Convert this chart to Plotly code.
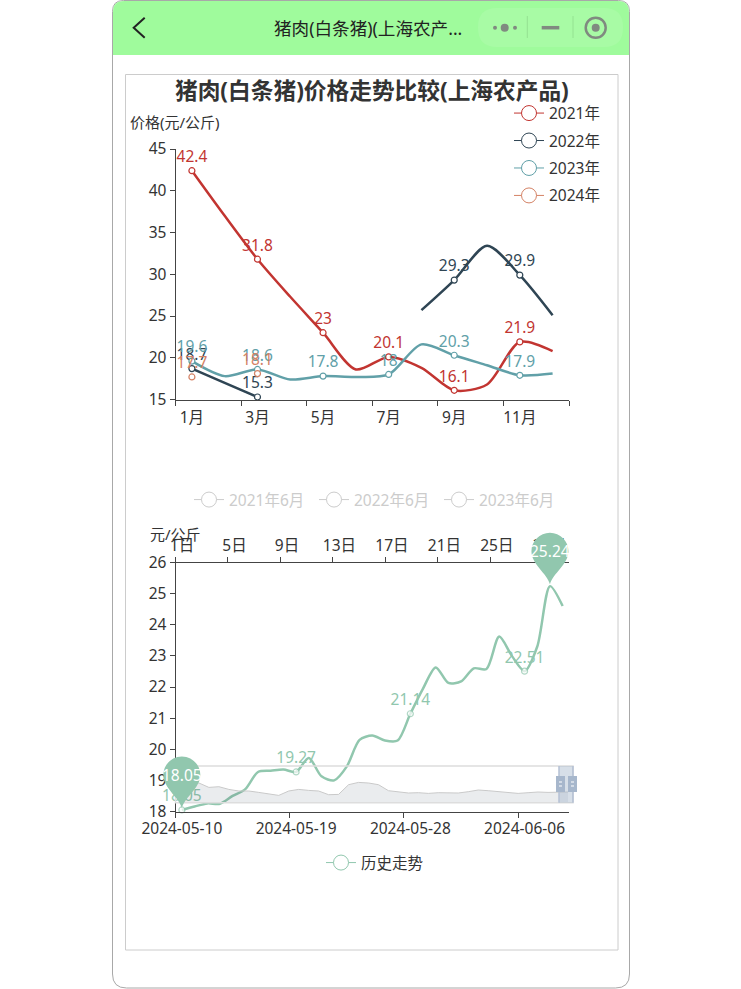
import numpy as np
import plotly.graph_objects as go

W, H = 741, 989
FONT = "Noto Sans, Noto Sans CJK SC"
TXT = "#333333"
FS = 15.5

months = ["1月", "2月", "3月", "4月", "5月", "6月", "7月", "8月", "9月", "10月", "11月", "12月"]
y2021 = [42.4, 37.0, 31.8, 27.3, 23, 18.6, 20.1, 18.8, 16.1, 16.8, 21.9, 20.8]
y2022 = [18.7, 17.0, 15.3, None, None, None, None, 25.7, 29.3, 33.4, 29.9, 25.1]
y2023 = [19.6, 17.8, 18.6, 17.4, 17.8, 17.7, 18, 21.6, 20.3, 19.1, 17.9, 18.1]
y2024 = [17.7, None, 18.1]
series_names = ["2021年", "2022年", "2023年", "2024年"]
series_colors = ["#c23531", "#2f4554", "#61a0a8", "#d48265"]
hidden_names = ["2021年6月", "2022年6月", "2023年6月"]

dates = ["2024-05-10", "2024-05-11", "2024-05-12", "2024-05-13", "2024-05-14", "2024-05-15", "2024-05-16",
         "2024-05-17", "2024-05-18", "2024-05-19", "2024-05-20", "2024-05-21", "2024-05-22", "2024-05-23",
         "2024-05-24", "2024-05-25", "2024-05-26", "2024-05-27", "2024-05-28", "2024-05-29", "2024-05-30",
         "2024-05-31", "2024-06-01", "2024-06-02", "2024-06-03", "2024-06-04", "2024-06-05", "2024-06-06",
         "2024-06-07", "2024-06-08", "2024-06-09"]
days = [f"{d}日" for d in range(1, 31)]
history = [18.05, 18.16, 18.26, 18.25, 18.5, 18.72, 19.27, 19.31, 19.35, 19.27, 19.72, 19.13, 19.0, 19.45,
           20.3, 20.44, 20.28, 20.28, 21.14, 21.95, 22.63, 22.13, 22.18, 22.6, 22.58, 23.62, 23.0, 22.51,
           23.3, 25.24, 24.6]
history_labelled = [0, 9, 18, 27]
overview = [18.7, 20, 19.7, 15.3, 16, 13.3, 11.7, 11.7, 10.3, 8.7, 7.3, 11.7, 13.3, 12.3, 11.7, 8, 8.3, 18,
            20.3, 19.7, 18, 12, 11, 9.7, 10, 9.3, 10, 10, 9.7, 11, 12.7, 12, 11, 10.3, 9.3, 10, 10.7, 10.3,
            10.3, 10.7]


def px(x):
    return x / W


def py(y):
    return 1 - y / H


def xdom(a, b):
    return [a / W, b / W]


def ydom(top, bot):
    return [1 - bot / H, 1 - top / H]


L, R = 175.5, 569.0
T1, B1 = 149.0, 399.5
T2, B2 = 562.5, 811.5
band = (R - L) / len(dates)
unit = (B2 - T2) / 8

fig = go.Figure()

# ---- upper chart
for name, vals, col in zip(series_names, [y2021, y2022, y2023, y2024], series_colors):
    idx = range(len(vals))
    fig.add_trace(go.Scatter(
        x=months[:len(vals)], y=vals, mode="lines+markers+text", showlegend=False,
        connectgaps=False, cliponaxis=False,
        line=dict(color=col, width=2.5, shape="spline", smoothing=0.8),
        marker=dict(size=[6 if i % 2 == 0 and vals[i] is not None else 0 for i in idx],
                    color="white", line=dict(color=col, width=1.2), opacity=1),
        text=[str(vals[i]) if i % 2 == 0 and vals[i] is not None else "" for i in idx],
        textposition="top center", textfont=dict(color=col, size=FS, family=FONT),
        xaxis="x", yaxis="y"))

# ---- legends (keys only)
for name, col in zip(series_names, series_colors):
    fig.add_trace(go.Scatter(
        x=[None], y=[None], mode="lines+markers", name=name, legend="legend", legendgroup=name,
        line=dict(color=col, width=1), marker=dict(size=15, color="white", line=dict(color=col, width=1)),
        xaxis="x", yaxis="y"))
for name in hidden_names:
    fig.add_trace(go.Scatter(
        x=[None], y=[None], mode="lines+markers", name=name, legend="legend2",
        line=dict(color="#cccccc", width=1),
        marker=dict(size=15, color="white", line=dict(color="#cccccc", width=1)),
        xaxis="x", yaxis="y"))

# ---- lower chart
GREEN = "#91c7ae"
fig.add_trace(go.Scatter(
    x=dates, y=history, mode="lines+markers+text", showlegend=False, cliponaxis=False,
    line=dict(color=GREEN, width=2.5, shape="spline", smoothing=0.8),
    marker=dict(size=[6 if i in history_labelled else 0 for i in range(len(history))],
                color="white", line=dict(color=GREEN, width=1.2)),
    text=[str(history[i]) if i in history_labelled else "" for i in range(len(history))],
    textposition="top center", textfont=dict(color=GREEN, size=FS, family=FONT),
    xaxis="x2", yaxis="y2"))
fig.add_trace(go.Scatter(
    x=[None], y=[None], mode="lines+markers", name="历史走势", legend="legend3",
    line=dict(color=GREEN, width=1), marker=dict(size=15, color="white", line=dict(color=GREEN, width=1)),
    xaxis="x2", yaxis="y2"))
# carries the day axis on top
fig.add_trace(go.Scatter(x=days, y=history[:len(days)], mode="lines", line=dict(width=0), showlegend=False,
                         hoverinfo="skip", xaxis="x3", yaxis="y2"))

# ---- data-zoom overview
fig.add_trace(go.Scatter(
    x=list(range(len(overview))), y=overview, mode="lines", showlegend=False, hoverinfo="skip",
    line=dict(color="#c9c9c9", width=1), fill="tozeroy", fillcolor="rgba(47,69,84,0.10)",
    xaxis="x4", yaxis="y4"))

# ---- overlay used only to anchor the pins, free of the plot clip
PL, PR, PT = 140.0, 600.0, 520.0
fig.add_trace(go.Scatter(x=[0], y=[18], mode="markers", marker=dict(size=0, opacity=0), showlegend=False,
                         hoverinfo="skip", xaxis="x5", yaxis="y5"))

# ---- linear twins that draw the tick marks on the category boundaries
for xa, ya in (("x6", "y"), ("x7", "y2"), ("x8", "y2")):
    fig.add_trace(go.Scatter(x=[0], y=[None], mode="markers", marker=dict(size=0, opacity=0), showlegend=False,
                             hoverinfo="skip", xaxis=xa, yaxis=ya))

axis = dict(showgrid=False, zeroline=False, showline=True, linecolor="#444444", linewidth=1,
            ticks="outside", ticklen=5, tickcolor="#444444", tickwidth=1, tickangle=0,
            tickfont=dict(size=FS, color=TXT, family=FONT))
label_axis = dict(axis, ticks="", ticklen=0)


def tick_axis(n, step, anchor, overlay, side, include_end=False):
    vals = [i - 0.5 for i in range(0, n + (1 if include_end else 0), step)]
    return dict(axis, type="linear", domain=xdom(L, R), range=[-0.5, n - 0.5], anchor=anchor, overlaying=overlay,
                side=side, showticklabels=False, showline=False, tickmode="array", tickvals=vals)


shapes = []


def rect(x0, y0, x1, y1, fill="rgba(0,0,0,0)", line="rgba(0,0,0,0)", lw=0, layer="below"):
    shapes.append(dict(type="rect", xref="paper", yref="paper", x0=px(x0), x1=px(x1), y0=py(y0), y1=py(y1),
                       fillcolor=fill, line=dict(color=line, width=lw), layer=layer))


def path(points, line, lw, fill="rgba(0,0,0,0)", layer="below"):
    d = "M " + " L ".join(f"{px(a):.5f},{py(b):.5f}" for a, b in points)
    shapes.append(dict(type="path", xref="paper", yref="paper", path=d, fillcolor=fill,
                       line=dict(color=line, width=lw), layer=layer))


def circle(cx, cy, r, fill="rgba(0,0,0,0)", line="rgba(0,0,0,0)", lw=0):
    shapes.append(dict(type="circle", xref="paper", yref="paper", x0=px(cx - r), x1=px(cx + r),
                       y0=py(cy + r), y1=py(cy - r), fillcolor=fill, line=dict(color=line, width=lw),
                       layer="below"))


def rounded(x0, y0, x1, y1, rtl, rbl, fill, line, lw):
    a, b = px(x0), px(x1)
    c, d = py(y0), py(y1)
    rx, ry = rtl / W, rtl / H
    sx, sy = rbl / W, rbl / H
    p = (f"M {a},{d + sy} L {a},{c - ry} Q {a},{c} {a + rx},{c} L {b - rx},{c} Q {b},{c} {b},{c - ry} "
         f"L {b},{d + sy} Q {b},{d} {b - sx},{d} L {a + sx},{d} Q {a},{d} {a},{d + sy} Z")
    shapes.append(dict(type="path", xref="paper", yref="paper", path=p, fillcolor=fill,
                       line=dict(color=line, width=lw), layer="below"))


# phone frame and header
rounded(112.5, 0.5, 629.5, 988, 11, 14, "#ffffff", "#a8a8a8", 1)
rounded(113, 1, 629, 55, 11, 0, "#9ffb9c", "rgba(0,0,0,0)", 0)
rounded(478, 8, 623, 47, 19, 19, "#a8fba5", "rgba(0,0,0,0)", 0)
circle(495, 27.7, 2, "#808a80")
circle(504.7, 27.7, 4, "#808a80")
circle(515, 27.7, 2, "#808a80")
path([(527.3, 16), (527.3, 38)], "#94e291", 1)
path([(573, 16), (573, 38)], "#94e291", 1)
path([(541.7, 27.7), (559.3, 27.7)], "#808a80", 3.5)
circle(595.7, 27.7, 10, "rgba(0,0,0,0)", "#808a80", 2.5)
circle(595.7, 27.7, 4, "#808a80")
path([(144.7, 17.7), (133.7, 27.7), (144.7, 37.7)], "#222222", 2)
rect(125.5, 74.5, 618, 950, "#ffffff", "#cccccc", 1)

# zoom slider frame, selection and handles
rect(175.5, 766, 573, 802.7, "rgba(0,0,0,0)", "#dddddd", 1.5, layer="above")
rect(559, 766, 573, 802.7, "rgba(167,183,204,0.45)", "rgba(0,0,0,0)", 0, layer="above")
for xh in (559, 573):
    path([(xh, 766), (xh, 802.7)], "#b4c0d4", 1.5, layer="above")
for x0 in (556, 568):
    rect(x0, 776, x0 + 9, 792, "#a7b7cc", "rgba(0,0,0,0)", 0, layer="above")
    path([(x0 + 3, 782), (x0 + 6, 782)], "#ffffff", 1, layer="above")
    path([(x0 + 3, 786), (x0 + 6, 786)], "#ffffff", 1, layer="above")

# pins: anchored to the extreme values of the series via the overlay axes
PIN = ("M 0 2 C -3 13 -18.5 22 -18.5 35 C -18.5 45.2 -10.2 53.5 0 53.5 "
       "C 10.2 53.5 18.5 45.2 18.5 35 C 18.5 22 3 13 0 2 Z")
annotations = []
imin, imax = int(np.argmin(history)), int(np.argmax(history))
for i in (imin, imax):
    shapes.append(dict(type="path", xref="x5", yref="y5", xsizemode="pixel", ysizemode="pixel",
                       xanchor=i, yanchor=history[i], path=PIN, fillcolor=GREEN,
                       line=dict(width=0), layer="above"))
    annotations.append(dict(xref="x5", yref="y5", x=i, y=history[i], yshift=35, showarrow=False,
                            text=str(history[i]), font=dict(color="white", size=FS, family=FONT)))


def note(x, y, text, size=15, color=TXT, bold=False):
    annotations.append(dict(xref="paper", yref="paper", x=px(x), y=py(y), text=f"<b>{text}</b>" if bold else text,
                            showarrow=False, xanchor="center", yanchor="middle",
                            font=dict(size=size, color=color, family=FONT)))


note(367.5, 28, "猪肉(白条猪)(上海农产...", 17.6, "#222222")
note(371.5, 90, "猪肉(白条猪)价格走势比较(上海农产品)", 22.7, "#333333", True)
note(175, 122, "价格(元/公斤)")
note(175, 534, "元/公斤")

legend_common = dict(bgcolor="rgba(0,0,0,0)", borderwidth=0, itemsizing="trace", itemwidth=30,
                     xanchor="left", yanchor="top", itemclick=False, itemdoubleclick=False)

fig.update_layout(
    width=W, height=H, autosize=False, margin=dict(l=0, r=0, t=0, b=0, pad=0, autoexpand=False),
    paper_bgcolor="white", plot_bgcolor="rgba(0,0,0,0)",
    font=dict(family=FONT, size=FS, color=TXT), hovermode=False,
    shapes=shapes, annotations=annotations,
    xaxis=dict(label_axis, type="category", categoryorder="array", categoryarray=months,
               domain=xdom(L, R), range=[-0.5, 11.5], anchor="y", ticklabelstandoff=4,
               tickmode="array", tickvals=months[::2], ticktext=months[::2]),
    yaxis=dict(axis, domain=ydom(T1, B1), range=[15, 45], tickmode="linear", tick0=15, dtick=5, anchor="x"),
    xaxis2=dict(label_axis, type="category", categoryorder="array", categoryarray=dates,
                domain=xdom(L, R), range=[-0.5, 30.5], anchor="y2", ticklabelstandoff=3,
                tickmode="array", tickvals=dates[::9], ticktext=dates[::9]),
    yaxis2=dict(axis, domain=ydom(T2, B2), range=[18, 26], tickmode="linear", tick0=18, dtick=1, anchor="x2"),
    xaxis3=dict(label_axis, type="category", categoryorder="array", categoryarray=days,
                domain=xdom(L, R), range=[-0.5, len(days) - 0.5], anchor="y2", side="top", overlaying="x2",
                ticklabelstandoff=4, tickmode="array", tickvals=days[::4], ticktext=days[::4]),
    xaxis4=dict(visible=False, domain=xdom(176, 573), range=[-0.3, len(overview) - 0.5], anchor="y4"),
    yaxis4=dict(visible=False, domain=ydom(766, 802.7), range=[0, 36.7], anchor="x4"),
    xaxis5=dict(visible=False, type="linear", domain=xdom(PL, PR), anchor="y5",
                range=[-0.5 + (PL - L) / band, -0.5 + (PR - L) / band]),
    yaxis5=dict(visible=False, domain=ydom(PT, B2), range=[18, 18 + (B2 - PT) / unit], anchor="x5"),
    xaxis6=tick_axis(len(months), 2, "y", "x", "bottom", include_end=True),
    xaxis7=tick_axis(len(dates), 9, "y2", "x2", "bottom"),
    xaxis8=tick_axis(len(days), 4, "y2", "x2", "top"),
    legend=dict(legend_common, x=px(509), y=py(96.5), orientation="v", tracegroupgap=4.3,
                font=dict(size=FS, color=TXT, family=FONT)),
    legend2=dict(legend_common, x=px(189), y=py(483), orientation="h", entrywidth=80, entrywidthmode="pixels",
                 font=dict(size=FS, color="#cccccc", family=FONT)),
    legend3=dict(legend_common, x=px(321), y=py(846), orientation="h",
                 font=dict(size=FS, color=TXT, family=FONT)),
)

fig.write_html("out.html", post_script="document.body.style.margin='0';", config=dict(displayModeBar=False))
